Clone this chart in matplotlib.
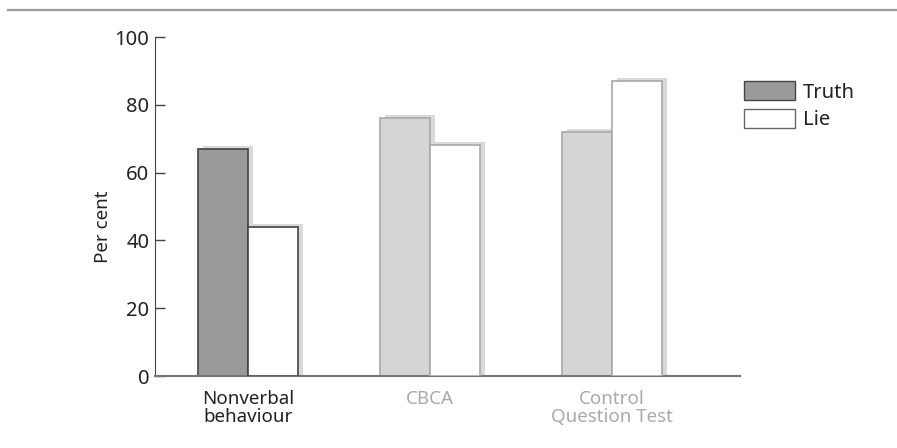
import numpy as np
import matplotlib.pyplot as plt
from matplotlib.lines import Line2D
from matplotlib.patches import Patch

# detection accuracy per method
methods = ["Nonverbal\nbehaviour", "CBCA", "Control\nQuestion Test"]
truth = [67, 76, 72]
lie = [44, 68, 87]

plt.rcParams['font.family'] = ['Noto Sans', 'DejaVu Sans']

fig = plt.figure(figsize=(8.97, 4.48), dpi=100)
ax = fig.add_axes([0.1728, 0.1607, 0.6522, 0.7567])

x = np.arange(len(methods))
w = 0.275
# drop shadow offsets (data units)
sdx, sdy = 0.028, 0.9

truth_fc = ["#9a9a9a", "#d5d5d5", "#d5d5d5"]
edge = ["#444444", "#a8a8a8", "#a8a8a8"]

# shadows first, behind the bars
for i in range(len(methods)):
    for xp, v in ((x[i] - w / 2, truth[i]), (x[i] + w / 2, lie[i])):
        ax.bar(xp + sdx, v + sdy, w, bottom=0, color="#d9d9d9",
               edgecolor="none", zorder=1)

ax.bar(x - w / 2, truth, w, color=truth_fc, edgecolor=edge, linewidth=1.2, zorder=2)
ax.bar(x + w / 2, lie, w, color="white", edgecolor=edge, linewidth=1.2, zorder=3)

ax.set_xlim(-0.511, 2.703)
ax.set_ylim(0, 100)
ax.set_yticks([0, 20, 40, 60, 80, 100])
ax.tick_params(axis="y", direction="in", length=7, width=1, color="#444444",
               labelsize=14.5, pad=4, labelcolor="#222222")
ax.set_xticks(x)
ax.set_xticklabels(methods, fontsize=13.5, linespacing=1.0)
ax.tick_params(axis="x", length=0, pad=10)
for lab, c in zip(ax.get_xticklabels(), ["#222222", "#aaaaaa", "#aaaaaa"]):
    lab.set_color(c)

ax.set_ylabel("Per cent", fontsize=13.5, color="#222222")
ax.yaxis.set_label_coords(-0.073, 0.44)

for s in ("top", "right"):
    ax.spines[s].set_visible(False)
ax.spines["left"].set_color("#444444")
ax.spines["bottom"].set_color("#777777")
ax.spines["bottom"].set_linewidth(1.5)

handles = [Patch(facecolor="#9a9a9a", edgecolor="#444444", label="Truth"),
           Patch(facecolor="white", edgecolor="#666666", label="Lie")]
fig.legend(handles=handles, loc="upper left", bbox_to_anchor=(0.812, 0.855),
           frameon=False, fontsize=14.5, handlelength=2.5, handleheight=1.1,
           handletextpad=0.4, labelspacing=0.3, labelcolor="#222222",
           borderpad=0.3)

# rule across the top of the figure
fig.add_artist(Line2D([0.009, 1.0], [0.977, 0.977], transform=fig.transFigure,
                      color="#9a9a9a", linewidth=1.6))

fig.savefig("out.png", dpi=100)
